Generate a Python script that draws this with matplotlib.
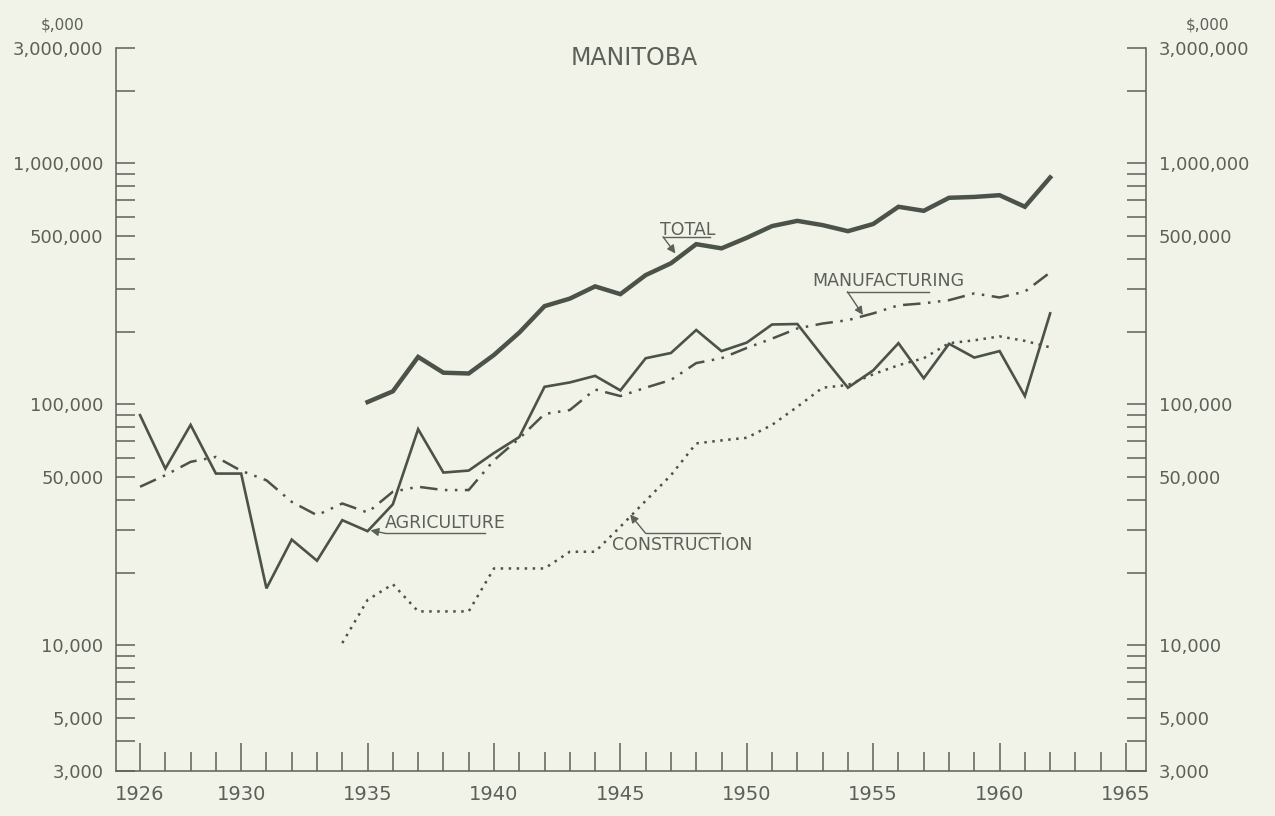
import matplotlib.pyplot as plt
from matplotlib.ticker import FixedLocator, NullFormatter

# values in $,000
years_agriculture = list(range(1926, 1963))
agriculture = [90000, 54000, 82000, 51500, 51500, 17200, 27400, 22400, 33000, 29700,
               38400, 78700, 52000, 53000, 62700, 73000, 118000, 123000, 131000, 114000,
               155000, 163000, 203000, 166000, 180000, 214000, 215000, 158000, 117000, 138000,
               179000, 128000, 178000, 156000, 166000, 108000, 238000]

years_total = list(range(1935, 1963))
total = [102000, 113000, 157000, 135000, 134000, 160000, 198000, 255000, 274000, 308000,
         286000, 343000, 384000, 461000, 443000, 490000, 548000, 576000, 553000, 522000,
         559000, 659000, 634000, 718000, 724000, 736000, 659000, 872000]

years_manufacturing = list(range(1926, 1963))
manufacturing = [45400, 50700, 57600, 60400, 52900, 48300, 39300, 34600, 38700, 35500,
                 43300, 45400, 44000, 44000, 58500, 72000, 91000, 94500, 115000, 108000,
                 117000, 126000, 148000, 155000, 171000, 187000, 206000, 216000, 223000, 238000,
                 257000, 262000, 270000, 288000, 277000, 293000, 352000]

years_construction = list(range(1934, 1963))
construction = [10200, 15400, 17900, 13800, 13800, 13800, 20800, 20800, 20800, 24400,
                24400, 31000, 39700, 50700, 68700, 70700, 72500, 82000, 97500, 117000,
                120000, 133000, 145000, 155000, 179000, 184000, 191000, 183000, 172000]

ytick_values = [3000, 5000, 10000, 50000, 100000, 500000, 1000000, 3000000]
ytick_labels = ["3,000", "5,000", "10,000", "50,000", "100,000", "500,000", "1,000,000", "3,000,000"]
year_labels = [1926, 1930, 1935, 1940, 1945, 1950, 1955, 1960, 1965]

BG = "#f1f2e8"
INK = "#4a5249"
TXT = "#5b6159"

plt.rcParams['font.family'] = ['DejaVu Sans']

fig = plt.figure(figsize=(12.75, 8.16), dpi=100, facecolor=BG)
ax = fig.add_axes([0.091, 0.055, 0.808, 0.886])
ax.set_facecolor(BG)

ax.plot(years_total, total, color=INK, lw=3.2, solid_joinstyle='miter')
ax.plot(years_agriculture, agriculture, color=INK, lw=1.9, solid_joinstyle='miter')
ax.plot(years_manufacturing, manufacturing, color=INK, lw=1.8,
        linestyle=(0, (7, 3, 1, 3, 1, 3)))
ax.plot(years_construction, construction, color=INK, lw=1.8, linestyle=(0, (1, 2.2)))

ax.set_yscale('log')
ax.set_ylim(3000, 3000000)
ax.set_xlim(1925.05, 1965.8)

# y ticks: all mantissas, same length, inward, on both sides
minor = [m * 10 ** e for e in range(3, 7) for m in range(1, 10)
         if 3000 <= m * 10 ** e <= 3000000 and m * 10 ** e not in ytick_values]
ax.yaxis.set_major_locator(FixedLocator(ytick_values))
ax.yaxis.set_minor_locator(FixedLocator(minor))
ax.yaxis.set_minor_formatter(NullFormatter())
ax.set_yticklabels(ytick_labels)
ax.tick_params(axis='y', which='both', direction='in', length=14, width=1.1,
               color=TXT, left=True, right=True, labelleft=True, labelright=True,
               labelsize=13, labelcolor=TXT, pad=9)

# x ticks: every year, longer on fives
ax.xaxis.set_major_locator(FixedLocator(list(range(1930, 1966, 5))))
ax.xaxis.set_minor_locator(FixedLocator([y for y in range(1926, 1966) if y % 5]))
ax.set_xticks(year_labels)
ax.set_xticklabels([str(y) for y in year_labels])
ax.tick_params(axis='x', which='major', direction='in', length=20, width=1.1, color=TXT,
               labelsize=14, labelcolor=TXT, pad=10)
ax.tick_params(axis='x', which='minor', direction='in', length=14, width=1.1, color=TXT)

ax.spines['top'].set_visible(False)
for s in ['left', 'right', 'bottom']:
    ax.spines[s].set_color(TXT)
    ax.spines[s].set_linewidth(1.1)

# units and title
fig.text(0.049, 0.969, "$,000", ha='center', va='center', fontsize=11, color=TXT)
fig.text(0.947, 0.969, "$,000", ha='center', va='center', fontsize=11, color=TXT)
ax.text(0.503, 0.986, "MANITOBA", transform=ax.transAxes, ha='center', va='center',
        fontsize=17, color=TXT)


def label(text, xy_text, line_x, line_y, tip):
    ax.text(xy_text[0], xy_text[1], text, transform=ax.transAxes, ha='center',
            va='center', fontsize=12.5, color=TXT)
    ax.plot(line_x, [line_y, line_y], transform=ax.transAxes, color=TXT, lw=1)
    ax.annotate('', xy=tip, xytext=(line_x[0], line_y), xycoords='axes fraction',
                arrowprops=dict(arrowstyle='-|>', color=TXT, lw=1,
                                mutation_scale=12, shrinkA=0, shrinkB=0))


label("TOTAL", (0.555, 0.748), [0.531, 0.577], 0.739, (0.543, 0.716))
label("MANUFACTURING", (0.750, 0.678), [0.710, 0.789], 0.663, (0.725, 0.631))
label("AGRICULTURE", (0.320, 0.343), [0.261, 0.358], 0.329, (0.247, 0.333))
label("CONSTRUCTION", (0.550, 0.313), [0.514, 0.586], 0.329, (0.499, 0.355))

fig.savefig("out.png", dpi=100, facecolor=BG)
